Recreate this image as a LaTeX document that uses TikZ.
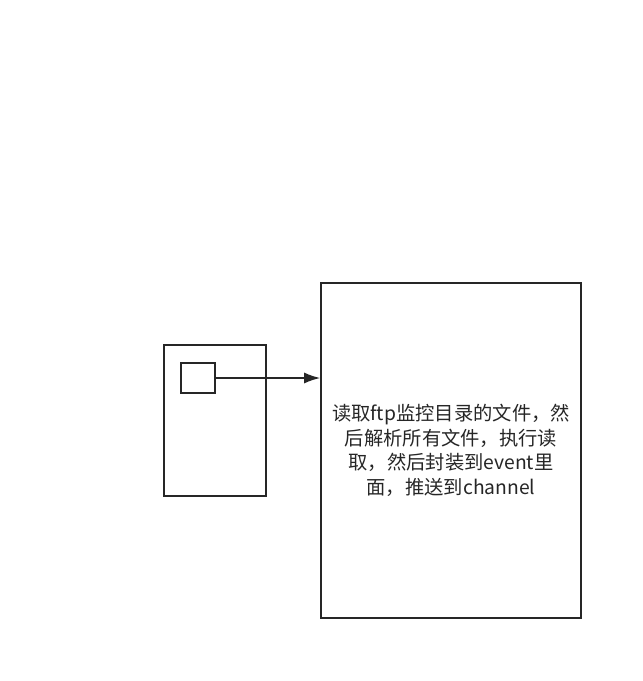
\documentclass[tikz,border=0pt]{standalone}
\usepackage{fontspec}
\newfontfamily\cjk{Noto Sans CJK SC}
\usetikzlibrary{arrows.meta}

\tikzset{
    box/.style={draw=black!85, line width=1.6pt, inner sep=0pt},
    link/.style={draw=black!85, line width=1.6pt, -{Latex[length=16pt,width=11pt]}}
}

\begin{document}
\begin{tikzpicture}[x=1pt, y=-1pt]
    \useasboundingbox (0,0) rectangle (643,681);
    \node[box, minimum width=102pt, minimum height=151pt] (source) at (215,420.5){};
    \node[box, minimum width=34pt, minimum height=30pt] (port) at (198,378){};
    \node[box, minimum width=260pt, minimum height=335pt, text width=255pt, align=center,
          font=\cjk\fontsize{19.3pt}{24.5pt}\selectfont, text=black!85] (channel) at (451,450.5)
        {读取ftp监控目录的文件，然\\后解析所有文件，执行读\\取，然后封装到event里\\面，推送到channel};
    \draw[link] (port.east) -- (port.east -| channel.west);
\end{tikzpicture}
\end{document}
